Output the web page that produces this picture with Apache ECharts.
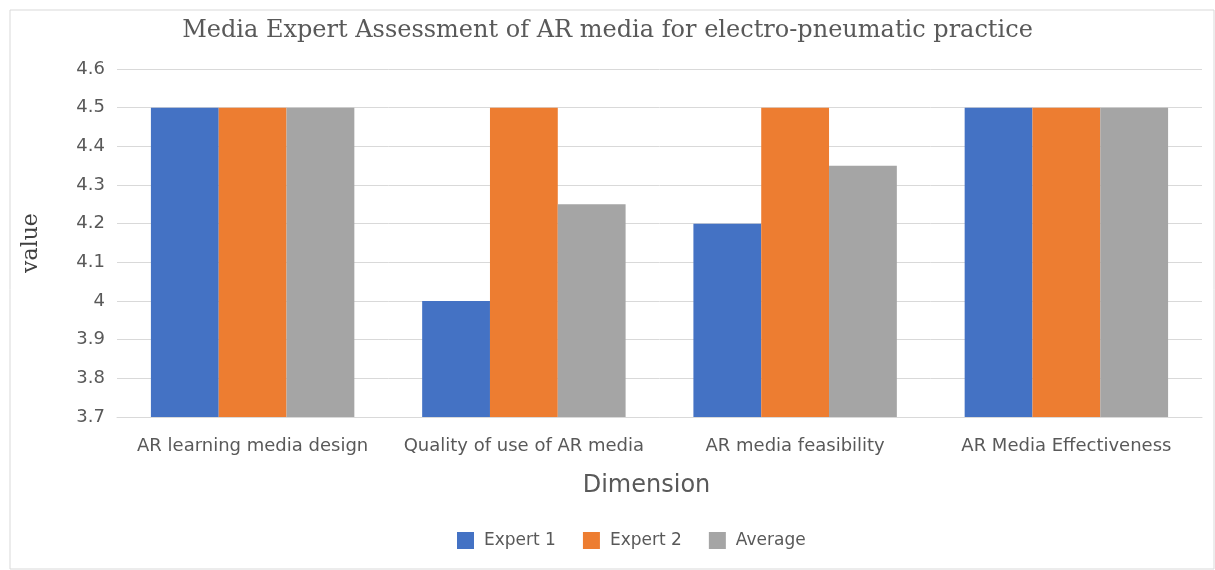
<!DOCTYPE html>
<html><head><meta charset="utf-8">
<script src="https://cdn.jsdelivr.net/npm/echarts@6/dist/echarts.min.js"></script>
<style>html,body{margin:0;padding:0;background:#fff}#c{width:1215px;height:570px}</style>
</head><body><div id="c"></div>
<script>
const categories = ['AR learning media design','Quality of use of AR media','AR media feasibility','AR Media Effectiveness'];
const expert1 = [4.5, 4.0, 4.2, 4.5];
const expert2 = [4.5, 4.5, 4.5, 4.5];
const average = [4.5, 4.25, 4.35, 4.5];
const chart = echarts.init(document.getElementById('c'));
chart.setOption({
  animation:false,
  graphic:[{type:'rect',shape:{x:10,y:10,width:1204,height:559},style:{fill:'none',stroke:'#d9d9d9',lineWidth:1}}],
  title:{text:'Media Expert Assessment of AR media for electro-pneumatic practice',left:'center',top:14,
    padding:[5,0,5,22],
    textStyle:{fontFamily:'DejaVu Serif',fontSize:24,fontWeight:'normal',color:'#595959'}},
  grid:{left:117,right:13,top:69,bottom:153},
  legend:{bottom:16,left:452,itemWidth:17,itemHeight:17,itemGap:27,icon:'rect',
    textStyle:{fontFamily:'DejaVu Sans',fontSize:17,color:'#595959',padding:[0,0,0,5]}},
  xAxis:{type:'category',data:categories,name:'Dimension',nameLocation:'middle',nameGap:57,
    nameTextStyle:{fontFamily:'DejaVu Sans',fontSize:24,color:'#595959',padding:[0,26,0,0]},
    axisLine:{lineStyle:{color:'#d9d9d9'}},axisTick:{show:false},
    axisLabel:{fontFamily:'DejaVu Sans',fontSize:18,color:'#595959',margin:20,interval:0}},
  yAxis:{type:'value',min:3.7,max:4.6,interval:0.1,name:'value',nameLocation:'middle',nameGap:75,
    nameTextStyle:{fontFamily:'DejaVu Serif',fontSize:22,color:'#404040'},
    axisLabel:{fontFamily:'DejaVu Sans',fontSize:18,color:'#595959',margin:12,formatter:v=>String(Math.round(v*10)/10)},
    splitLine:{lineStyle:{color:'#d9d9d9'}},axisLine:{show:false},axisTick:{show:false}},
  series:[
    {name:'Expert 1',type:'bar',data:expert1,itemStyle:{color:'#4472C4'},barGap:'0%',barCategoryGap:'25%'},
    {name:'Expert 2',type:'bar',data:expert2,itemStyle:{color:'#ED7D31'}},
    {name:'Average',type:'bar',data:average,itemStyle:{color:'#A5A5A5'}}
  ]
});
</script></body></html>
